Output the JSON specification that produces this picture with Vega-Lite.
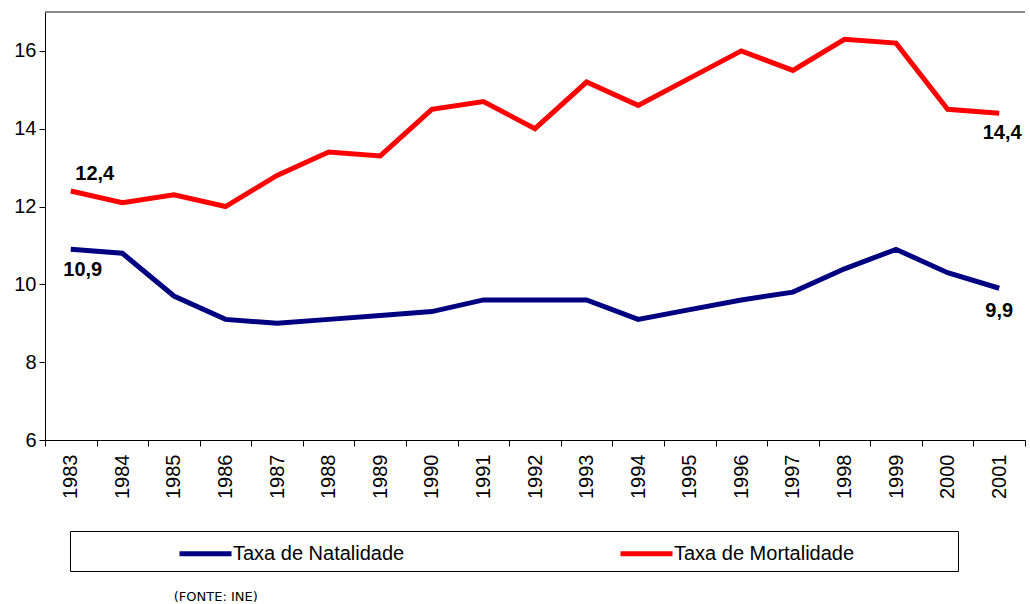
{
  "$schema": "https://vega.github.io/schema/vega-lite/v6.json",
  "autosize": "none",
  "width": 980,
  "height": 428,
  "padding": {"left": 45, "top": 12, "right": 5, "bottom": 164},
  "background": "white",
  "config": {
    "view": {"stroke": null},
    "font": "Liberation Sans",
    "axis": {"grid": false, "domainColor": "black", "tickColor": "black", "labelColor": "black", "labelFontSize": 20, "labelFont": "Liberation Sans", "tickSize": 6, "title": null}
  },
  "title": {
    "text": "(FONTE: INE)",
    "orient": "bottom",
    "anchor": "start",
    "fontSize": 13,
    "fontWeight": "normal",
    "font": "DejaVu Sans",
    "color": "black",
    "offset": 19,
    "dx": 160
  },
  "data": {
    "values": [
      {"ano": "1983", "serie": "Taxa de Natalidade", "valor": 10.9, "rotulo": "10,9"},
      {"ano": "1984", "serie": "Taxa de Natalidade", "valor": 10.8},
      {"ano": "1985", "serie": "Taxa de Natalidade", "valor": 9.7},
      {"ano": "1986", "serie": "Taxa de Natalidade", "valor": 9.1},
      {"ano": "1987", "serie": "Taxa de Natalidade", "valor": 9.0},
      {"ano": "1988", "serie": "Taxa de Natalidade", "valor": 9.1},
      {"ano": "1989", "serie": "Taxa de Natalidade", "valor": 9.2},
      {"ano": "1990", "serie": "Taxa de Natalidade", "valor": 9.3},
      {"ano": "1991", "serie": "Taxa de Natalidade", "valor": 9.6},
      {"ano": "1992", "serie": "Taxa de Natalidade", "valor": 9.6},
      {"ano": "1993", "serie": "Taxa de Natalidade", "valor": 9.6},
      {"ano": "1994", "serie": "Taxa de Natalidade", "valor": 9.1},
      {"ano": "1995", "serie": "Taxa de Natalidade", "valor": 9.35},
      {"ano": "1996", "serie": "Taxa de Natalidade", "valor": 9.6},
      {"ano": "1997", "serie": "Taxa de Natalidade", "valor": 9.8},
      {"ano": "1998", "serie": "Taxa de Natalidade", "valor": 10.4},
      {"ano": "1999", "serie": "Taxa de Natalidade", "valor": 10.9},
      {"ano": "2000", "serie": "Taxa de Natalidade", "valor": 10.3},
      {"ano": "2001", "serie": "Taxa de Natalidade", "valor": 9.9, "rotulo": "9,9"},
      {"ano": "1983", "serie": "Taxa de Mortalidade", "valor": 12.4, "rotulo": "12,4"},
      {"ano": "1984", "serie": "Taxa de Mortalidade", "valor": 12.1},
      {"ano": "1985", "serie": "Taxa de Mortalidade", "valor": 12.3},
      {"ano": "1986", "serie": "Taxa de Mortalidade", "valor": 12.0},
      {"ano": "1987", "serie": "Taxa de Mortalidade", "valor": 12.8},
      {"ano": "1988", "serie": "Taxa de Mortalidade", "valor": 13.4},
      {"ano": "1989", "serie": "Taxa de Mortalidade", "valor": 13.3},
      {"ano": "1990", "serie": "Taxa de Mortalidade", "valor": 14.5},
      {"ano": "1991", "serie": "Taxa de Mortalidade", "valor": 14.7},
      {"ano": "1992", "serie": "Taxa de Mortalidade", "valor": 14.0},
      {"ano": "1993", "serie": "Taxa de Mortalidade", "valor": 15.2},
      {"ano": "1994", "serie": "Taxa de Mortalidade", "valor": 14.6},
      {"ano": "1995", "serie": "Taxa de Mortalidade", "valor": 15.3},
      {"ano": "1996", "serie": "Taxa de Mortalidade", "valor": 16.0},
      {"ano": "1997", "serie": "Taxa de Mortalidade", "valor": 15.5},
      {"ano": "1998", "serie": "Taxa de Mortalidade", "valor": 16.3},
      {"ano": "1999", "serie": "Taxa de Mortalidade", "valor": 16.2},
      {"ano": "2000", "serie": "Taxa de Mortalidade", "valor": 14.5},
      {"ano": "2001", "serie": "Taxa de Mortalidade", "valor": 14.4, "rotulo": "14,4"}
    ]
  },
  "encoding": {
    "x": {
      "field": "ano", "type": "ordinal",
      "scale": {"type": "band", "paddingInner": 0, "paddingOuter": 0},
      "bandPosition": 0.5,
      "axis": {"labelAngle": 270, "tickBand": "extent", "labelPadding": 8}
    },
    "y": {
      "field": "valor", "type": "quantitative",
      "scale": {"domain": [6, 17], "nice": false, "zero": false},
      "axis": {"values": [6, 8, 10, 12, 14, 16], "labelPadding": 3}
    }
  },
  "layer": [
    {
      "mark": {"type": "rule", "color": "#888888", "strokeWidth": 1},
      "encoding": {"y": {"datum": 17}, "x": null}
    },
    {
      "mark": {"type": "line", "strokeWidth": 5, "strokeJoin": "miter"},
      "encoding": {
        "color": {
          "field": "serie", "type": "nominal",
          "scale": {"domain": ["Taxa de Natalidade", "Taxa de Mortalidade"], "range": ["#000080", "#FF0000"]},
          "legend": {
            "title": "\u00a0",
            "titleOrient": "right",
            "titlePadding": 97,
            "titleFontSize": 10,
            "orient": "none",
            "legendX": 25,
            "legendY": 519,
            "direction": "horizontal",
            "columns": 2,
            "columnPadding": 113,
            "symbolType": "M-1,0H3",
            "symbolSize": 676,
            "symbolStrokeWidth": 5,
            "symbolOffset": 100,
            "labelFont": "Liberation Sans",
            "labelFontSize": 20,
            "labelLimit": 400,
            "labelColor": "black",
            "labelOffset": 25,
            "strokeColor": "black",
            "padding": 7
          }
        }
      }
    },
    {
      "transform": [{"filter": "datum.rotulo == '12,4'"}],
      "mark": {"type": "text", "fontWeight": "bold", "fontSize": 20, "dx": 24, "dy": -17, "color": "black"},
      "encoding": {"text": {"field": "rotulo"}}
    },
    {
      "transform": [{"filter": "datum.rotulo == '10,9'"}],
      "mark": {"type": "text", "fontWeight": "bold", "fontSize": 20, "dx": 12, "dy": 21, "color": "black"},
      "encoding": {"text": {"field": "rotulo"}}
    },
    {
      "transform": [{"filter": "datum.rotulo == '14,4'"}],
      "mark": {"type": "text", "fontWeight": "bold", "fontSize": 20, "dx": 3, "dy": 20, "color": "black"},
      "encoding": {"text": {"field": "rotulo"}}
    },
    {
      "transform": [{"filter": "datum.rotulo == '9,9'"}],
      "mark": {"type": "text", "fontWeight": "bold", "fontSize": 20, "dx": 0, "dy": 23, "color": "black"},
      "encoding": {"text": {"field": "rotulo"}}
    }
  ]
}
